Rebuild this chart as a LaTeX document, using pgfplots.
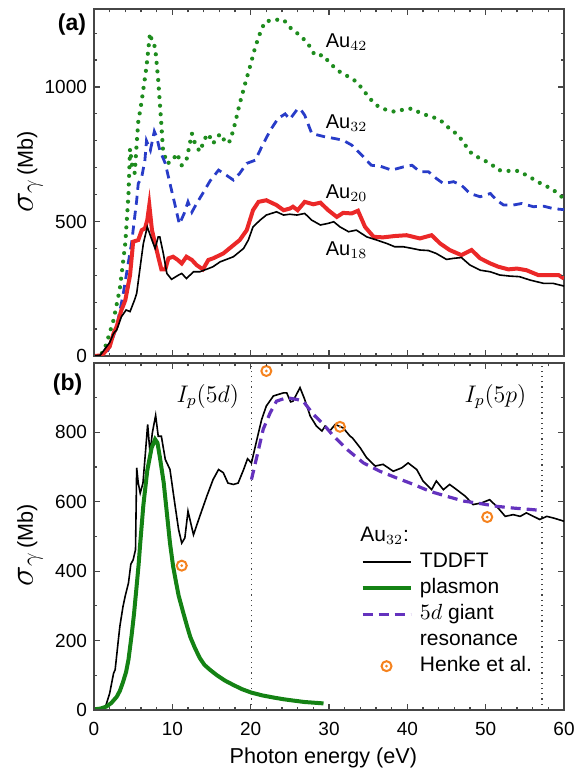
\documentclass[border=0pt]{standalone}
\usepackage{fontspec}
\setmainfont{Liberation Sans}
\usepackage{pgfplots}
\pgfplotsset{compat=1.18}
\definecolor{cgreen}{RGB}{30,140,30}
\definecolor{cblue}{RGB}{40,60,200}
\definecolor{cred}{RGB}{235,40,40}
\definecolor{cplas}{RGB}{20,130,20}
\definecolor{cpurple}{RGB}{100,50,190}
\definecolor{corange}{RGB}{245,130,30}
\definecolor{caxis}{RGB}{70,70,70}

\pgfdeclareplotmark{ringdot}{%
  \pgfpathcircle{\pgfpointorigin}{\pgfplotmarksize}%
  \pgfusepathqstroke
  \pgfpathcircle{\pgfpointorigin}{0.3\pgfplotmarksize}%
  \pgfusepathqfill}

\pgfplotsset{
  lineleg/.style={legend image code/.code={\draw[##1] (0pt,0pt) -- (24pt,0pt);}},
  markleg/.style={legend image code/.code={\path[draw=none] (0pt,0pt) -- (24pt,0pt);
    \draw[##1] plot coordinates {(12pt,0pt)};}},
  panel/.style={
  width=235pt, scale only axis, xmin=0, xmax=60,
  xtick={0,10,20,30,40,50,60}, minor x tick num=4,
  tick align=inside, major tick length=3pt, minor tick length=1.7pt,
  every tick/.style={caxis, line width=0.6pt},
  axis line style={caxis, line width=0.7pt},
  tick label style={font=\fontsize{9.5}{11}\selectfont},
  label style={font=\fontsize{10.8}{13}\selectfont},
  ylabel={{\fontsize{17}{17}\selectfont$\sigma_{\gamma}$}\,(Mb)}}}

\begin{document}
\begin{tikzpicture}
\path[use as bounding box] (-47pt,-33pt) rectangle (243pt,355pt);

% panel (a)
\begin{axis}[panel, name=pa, at={(0pt,177pt)}, anchor=south west, height=173.5pt,
  ymin=0, ymax=1290, xticklabels={},
  ytick={0,500,1000}, yticklabels={0,500,1000}, minor y tick num=4,
  ylabel style={at={(axis description cs:-0.136,0.53)}, anchor=center}]
\addplot[cgreen, line width=2.1pt, line cap=round, dash pattern=on 0pt off 4.3pt] coordinates {
(0,0) (0.8,5) (1.2,16) (1.6,47) (2.5,134) (3.3,250) (4.0,420) (4.4,600) (4.6,770)
(4.9,700) (5.2,680) (5.45,790) (5.65,870) (6.1,950) (6.7,1075) (7.15,1200) (7.5,1160)
(7.8,1150) (8.2,1025) (8.6,860) (8.8,770) (9.3,716) (9.9,722) (10.6,753) (11.2,709)
(11.8,728) (12.5,827) (12.9,790) (13.5,760) (14.2,810) (14.6,826) (15.2,790) (16.1,826)
(16.9,790) (17.4,800) (18.0,864) (18.6,938) (19.3,1013) (19.9,1074) (20.6,1150)
(21.2,1200) (21.8,1242) (22.9,1250) (24.2,1250) (25.2,1216) (26.3,1192) (27.3,1162)
(28.2,1118) (29.3,1118) (30.1,1088) (31.4,1056) (32.5,1038) (33.5,1020) (34.4,988)
(35.2,957) (36.3,927) (37.4,914) (38.4,908) (39.5,916) (40.6,920) (41.8,901) (43.1,890)
(44.2,877) (45.4,845) (46.5,821) (47.4,784) (48.2,753) (49.3,734) (50.6,716) (51.6,691)
(52.9,688) (54.2,688) (55.2,672) (56.3,654) (57.4,635) (58.4,623) (59.7,592) (60,585)};
\addplot[cblue, line width=1.4pt, dash pattern=on 4.5pt off 3pt] coordinates {
(0,0) (1.0,3) (1.6,10) (2.0,35) (2.9,109) (3.7,225) (4.4,350) (4.8,420) (5.45,579)
(5.65,641) (6.1,666) (6.5,728) (6.7,800) (7.2,765) (7.7,835) (8.0,814) (8.4,765)
(9.1,716) (9.7,641) (10.3,567) (10.9,490) (11.5,529) (12.0,573) (12.5,535) (13.1,567)
(14.0,610) (14.8,650) (15.9,691) (16.9,672) (17.8,654) (18.6,679) (19.5,716) (20.6,728)
(21.4,777) (22.5,839) (23.5,883) (24.4,900) (25.0,880) (25.9,915) (26.3,920) (26.9,895)
(27.8,827) (29.3,816) (30.8,808) (31.8,802) (32.9,784) (34.4,740) (35.4,709) (36.5,706)
(38.0,691) (39.5,703) (40.6,709) (41.6,685) (42.7,685) (43.7,660) (44.6,641) (45.9,648)
(46.9,635) (48.0,604) (49.3,592) (50.6,604) (51.4,579) (52.3,561) (53.5,561) (54.6,567)
(56.1,555) (57.4,557) (58.6,548) (60,544)};
\addplot[cred, line width=2pt] coordinates {
(0,0) (1.0,2) (2.0,35) (2.5,84) (2.9,110) (3.5,171) (3.7,185) (4.0,208) (4.6,300)
(5.0,425) (5.65,431) (6.1,468) (6.5,474) (6.8,505) (7.06,561) (7.4,468) (7.8,418)
(8.2,369) (8.6,322) (9.1,322) (9.5,363) (10.1,369) (10.7,357) (11.2,344) (11.8,369)
(12.5,357) (13.1,338) (13.9,322) (14.6,357) (15.2,363) (16.5,381) (17.8,412) (18.6,431)
(19.5,468) (20.3,542) (21.0,573) (22.0,579) (23.3,561) (24.2,542) (25.0,548) (25.4,555)
(26.0,542) (26.9,573) (28.0,564) (28.9,570) (29.9,542) (31.0,517) (31.8,532) (32.9,530)
(33.7,540) (34.6,480) (35.7,443) (36.9,441) (38.4,446) (39.9,449) (41.6,437) (43.1,449)
(44.2,418) (45.4,394) (46.9,375) (48.2,394) (49.3,363) (50.6,344) (51.6,332) (52.9,322)
(54.0,325) (55.2,319) (56.7,301) (58.2,301) (59.3,301) (60,288)};
\addplot[black, line width=0.8pt] coordinates {
(0,0) (0.8,3) (2.0,50) (2.5,84) (2.9,97) (3.5,146) (4.1,171) (4.6,165) (5.2,210)
(5.45,233) (5.9,332) (6.3,418) (6.8,480) (7.4,431) (7.8,400) (8.2,443) (8.4,443)
(8.85,381) (9.3,307) (9.9,285) (10.8,301) (11.2,307) (11.8,288) (12.7,313) (13.5,313)
(14.6,325) (15.2,332) (16.1,350) (17.8,369) (19.1,400) (19.7,431) (20.3,480) (21.2,505)
(22.0,524) (23.3,536) (24.2,524) (25.0,527) (25.9,524) (26.9,530) (27.8,505) (28.9,487)
(29.9,493) (30.6,499) (31.4,480) (32.5,462) (33.5,468) (34.8,443) (36.1,431) (37.4,418)
(38.4,406) (39.5,406) (40.6,400) (41.6,394) (42.7,392) (43.7,381) (45.0,359) (45.9,363)
(46.9,366) (48.0,338) (49.3,319) (50.6,313) (51.8,301) (53.1,297) (54.3,295) (55.7,282)
(57.4,270) (58.6,270) (60,260)};
\node[anchor=base west, font=\fontsize{10}{12}\selectfont] at (axis cs:28.7,1148) {Au$_{42}$};
\node[anchor=base west, font=\fontsize{10}{12}\selectfont] at (axis cs:28.7,846) {Au$_{32}$};
\node[anchor=base west, font=\fontsize{10}{12}\selectfont] at (axis cs:28.7,586) {Au$_{20}$};
\node[anchor=base west, font=\fontsize{10}{12}\selectfont] at (axis cs:28.7,375) {Au$_{18}$};
\end{axis}
\node[font=\bfseries\fontsize{11.5}{13}\selectfont] at ([xshift=-11pt,yshift=165.7pt]pa.south west) {(a)};

% panel (b)
\begin{axis}[panel, name=pb, at={(0pt,0pt)}, anchor=south west, height=173.5pt,
  ymin=0, ymax=1000, xticklabels={},
  ytick={0,200,400,600,800}, yticklabels={0,200,400,600,800},
  minor ytick={100,300,500,700,900},
  xlabel={Photon energy (eV)},
  xlabel style={at={(axis description cs:0.488,-0.138)}, anchor=center},
  ylabel style={at={(axis description cs:-0.136,0.475)}, anchor=center},
  legend style={at={(axis description cs:0.562,0.469)}, anchor=north west,
    draw=none, fill=none, font=\fontsize{10.5}{12.6}\selectfont,
    cells={anchor=west, inner sep=0pt, text height=7pt, text depth=2.5pt},
    inner sep=1pt, row sep=0.5pt, column sep=1.7pt},
  legend cell align=left]
\addplot[caxis, line width=0.6pt, dotted, forget plot] coordinates {(20.1,0) (20.1,1000)};
\addplot[caxis, line width=0.6pt, dotted, forget plot] coordinates {(57.2,0) (57.2,1000)};
\addplot[black, line width=0.8pt, lineleg] coordinates {
(0,0) (0.8,2) (1.4,5) (1.6,19) (2.0,48) (2.5,106) (2.7,116) (3.1,200) (3.3,241)
(3.7,298) (4.0,330) (4.4,366) (4.7,420) (5.0,433) (5.3,462) (5.45,698) (5.65,654)
(5.9,625) (6.25,654) (6.6,751) (6.85,823) (7.15,741) (7.45,799) (7.87,849) (8.2,789)
(8.6,789) (9.1,722) (9.7,693) (10.3,597) (10.8,520) (11.2,481) (11.6,496) (12.0,573)
(12.7,505) (13.5,558) (14.4,616) (15.2,664) (15.9,693) (16.5,684) (17.1,654) (17.8,650)
(18.4,654) (19.1,693) (19.6,724) (20.1,712) (20.8,780) (21.4,837) (22.0,876) (22.9,905)
(24.2,914) (24.6,914) (25.1,888) (25.4,890) (26.3,929) (26.9,895) (27.6,847) (28.4,818)
(29.1,804) (29.5,818) (30.1,804) (30.8,823) (31.8,813) (32.7,789) (33.0,784) (34.0,755)
(34.8,727) (35.9,703) (36.9,708) (38.2,688) (39.3,698) (40.1,712) (41.2,693) (42.0,660)
(43.1,635) (43.7,660) (44.6,635) (45.4,650) (46.3,635) (47.4,616) (48.4,592) (49.5,597)
(50.5,606) (51.4,587) (52.5,558) (53.5,563) (54.4,558) (55.2,568) (56.1,558) (56.9,549)
(57.8,558) (58.7,553) (60,544)};
\addlegendentry{TDDFT}
\addplot[cplas, line width=2pt, lineleg] coordinates {
(0,2) (0.8,4) (1.6,10) (2.2,20) (2.9,38) (3.3,55) (3.7,80) (4.1,110) (4.4,145) (4.8,215)
(5.1,275) (5.4,347) (5.7,420) (5.9,480) (6.3,590) (6.8,690) (7.35,755) (7.8,780) (8.1,770)
(8.4,730) (8.9,655) (9.3,568) (9.7,481) (10.1,414) (10.5,365) (10.8,330) (11.4,280)
(11.9,240) (12.3,210) (12.9,178) (13.5,150) (14.1,130) (14.8,116) (15.7,100) (16.7,85)
(17.8,72) (18.9,60) (20.1,50) (21.5,42) (22.9,36) (24.2,31) (25.5,27) (26.9,23) (28.1,21)
(29.3,19)};
\addlegendentry{plasmon}
\addplot[cpurple, line width=1.6pt, dash pattern=on 5pt off 3pt, lineleg] coordinates {
(20.1,664) (20.8,731) (21.6,809) (22.5,857) (23.3,890) (24.6,900) (25.9,895) (26.7,890)
(28.0,852) (29.3,823) (30.6,789) (32.3,751) (34.4,712) (36.5,688) (38.6,669) (40.8,650)
(42.9,630) (45.0,616) (47.2,602) (49.3,595) (51.4,587) (53.5,582) (55.7,578) (57.1,575)};
\addlegendentry{$5d$ giant}
\addlegendimage{empty legend}
\addlegendentry{resonance}
\addplot[only marks, mark=ringdot, mark size=2.5pt, corange, line width=1pt, markleg] coordinates {
(11.2,416) (22.0,977) (31.4,816) (50.2,556)};
\addlegendentry{Henke et al.}
\node[anchor=base east, font=\fontsize{12}{14}\selectfont] at (axis cs:19.4,887) {$I_p(5d)$};
\node[anchor=base east, font=\fontsize{12}{14}\selectfont] at (axis cs:56.1,887) {$I_p(5p)$};
\node[anchor=base west, font=\fontsize{10.5}{12.6}\selectfont, inner sep=0pt] at (axis cs:33.96,486) {Au$_{32}$:};
\end{axis}
\node[font=\bfseries\fontsize{11.5}{13}\selectfont] at ([xshift=-13.2pt,yshift=162.7pt]pb.south west) {(b)};

% x tick labels of panel (b); its axis box starts at the origin
\node[anchor=north, font=\fontsize{9.5}{11}\selectfont] at (0pt,-2.8pt) {0};
\node[anchor=north, font=\fontsize{9.5}{11}\selectfont] at (39.1667pt,-2.8pt) {10};
\node[anchor=north, font=\fontsize{9.5}{11}\selectfont] at (78.3333pt,-2.8pt) {20};
\node[anchor=north, font=\fontsize{9.5}{11}\selectfont] at (117.5pt,-2.8pt) {30};
\node[anchor=north, font=\fontsize{9.5}{11}\selectfont] at (156.6667pt,-2.8pt) {40};
\node[anchor=north, font=\fontsize{9.5}{11}\selectfont] at (195.8333pt,-2.8pt) {50};
\node[anchor=north, font=\fontsize{9.5}{11}\selectfont] at (235pt,-2.8pt) {60};

% tick marks on all sides
\draw[caxis, line width=0.6pt, xstep=7.8333pt, ystep=1000pt] (0pt,0pt) grid (235pt,1.7pt);
\draw[caxis, line width=0.6pt, xstep=39.1667pt, ystep=1000pt] (0pt,0pt) grid (235pt,3pt);
\draw[caxis, line width=0.6pt, xstep=7.8333pt, ystep=1000pt] (0pt,171.8pt) grid (235pt,173.5pt);
\draw[caxis, line width=0.6pt, xstep=39.1667pt, ystep=1000pt] (0pt,170.5pt) grid (235pt,173.5pt);
\draw[caxis, line width=0.6pt, xstep=7.8333pt, ystep=1000pt] (0pt,177pt) grid (235pt,178.7pt);
\draw[caxis, line width=0.6pt, xstep=39.1667pt, ystep=1000pt] (0pt,177pt) grid (235pt,180pt);
\draw[caxis, line width=0.6pt, xstep=7.8333pt, ystep=1000pt] (0pt,348.8pt) grid (235pt,350.5pt);
\draw[caxis, line width=0.6pt, xstep=39.1667pt, ystep=1000pt] (0pt,347.5pt) grid (235pt,350.5pt);
\draw[caxis, line width=0.6pt, xstep=1000pt, ystep=17.35pt] (0pt,0pt) grid (1.7pt,173.5pt);
\draw[caxis, line width=0.6pt, xstep=1000pt, ystep=34.7pt] (0pt,0pt) grid (3pt,173.5pt);
\draw[caxis, line width=0.6pt, xstep=1000pt, ystep=17.35pt] (233.3pt,0pt) grid (235pt,173.5pt);
\draw[caxis, line width=0.6pt, xstep=1000pt, ystep=34.7pt] (232pt,0pt) grid (235pt,173.5pt);
\draw[caxis, line width=0.6pt]
  (0pt,190.45pt) -- ++(1.7pt,0pt) (0pt,203.90pt) -- ++(1.7pt,0pt)
  (0pt,217.35pt) -- ++(1.7pt,0pt) (0pt,230.80pt) -- ++(1.7pt,0pt)
  (0pt,244.25pt) -- ++(3pt,0pt)   (0pt,257.70pt) -- ++(1.7pt,0pt)
  (0pt,271.15pt) -- ++(1.7pt,0pt) (0pt,284.60pt) -- ++(1.7pt,0pt)
  (0pt,298.05pt) -- ++(1.7pt,0pt) (0pt,311.50pt) -- ++(3pt,0pt)
  (0pt,324.95pt) -- ++(1.7pt,0pt) (0pt,338.40pt) -- ++(1.7pt,0pt);
\draw[caxis, line width=0.6pt]
  (235pt,190.45pt) -- ++(-1.7pt,0pt) (235pt,203.90pt) -- ++(-1.7pt,0pt)
  (235pt,217.35pt) -- ++(-1.7pt,0pt) (235pt,230.80pt) -- ++(-1.7pt,0pt)
  (235pt,244.25pt) -- ++(-3pt,0pt)   (235pt,257.70pt) -- ++(-1.7pt,0pt)
  (235pt,271.15pt) -- ++(-1.7pt,0pt) (235pt,284.60pt) -- ++(-1.7pt,0pt)
  (235pt,298.05pt) -- ++(-1.7pt,0pt) (235pt,311.50pt) -- ++(-3pt,0pt)
  (235pt,324.95pt) -- ++(-1.7pt,0pt) (235pt,338.40pt) -- ++(-1.7pt,0pt);
\end{tikzpicture}
\end{document}
